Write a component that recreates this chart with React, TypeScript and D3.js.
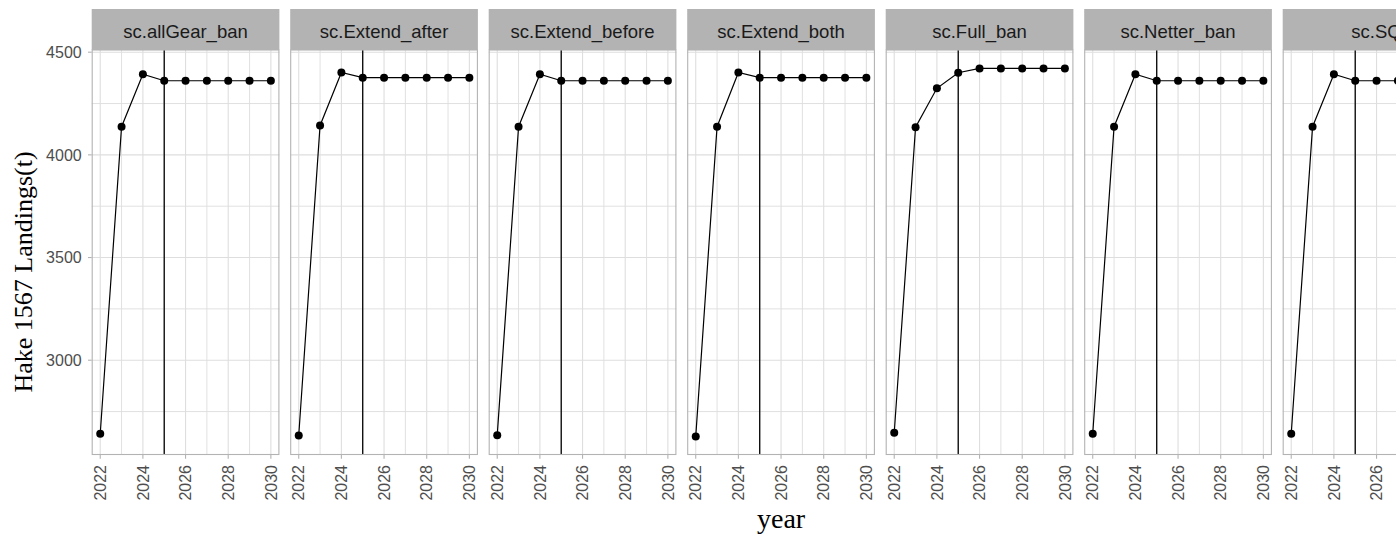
import React from "react";
import * as d3 from "d3";

const years = [2022, 2023, 2024, 2025, 2026, 2027, 2028, 2029, 2030];
const scenarios = [
  "sc.allGear_ban",
  "sc.Extend_after",
  "sc.Extend_before",
  "sc.Extend_both",
  "sc.Full_ban",
  "sc.Netter_ban",
  "sc.SQ",
];
const allGearBan = [2642, 4137, 4393, 4361, 4361, 4361, 4361, 4361, 4361];
const extendAfter = [2633, 4143, 4401, 4376, 4376, 4376, 4376, 4376, 4376];
const extendBefore = [2635, 4137, 4393, 4361, 4361, 4361, 4361, 4361, 4361];
const extendBoth = [2628, 4137, 4401, 4376, 4376, 4376, 4376, 4376, 4376];
const fullBan = [2647, 4135, 4324, 4400, 4421, 4421, 4421, 4421, 4421];
const netterBan = [2642, 4137, 4393, 4361, 4361, 4361, 4361, 4361, 4361];
const statusQuo = [2642, 4137, 4393, 4361, 4361, 4361, 4361, 4361, 4361];
const seriesValues = [allGearBan, extendAfter, extendBefore, extendBoth, fullBan, netterBan, statusQuo];
const vlineYear = 2025;
const yTicks = [3000, 3500, 4000, 4500];
const yMinor = [2750, 3250, 3750, 4250];
const xTicks = [2022, 2024, 2026, 2028, 2030];
const xMinor = [2023, 2025, 2027, 2029];
const yTitle = "Hake 1567 Landings(t)";
const xTitle = "year";

export default function App() {
  const W = 1396, H = 538;
  const panelLeft0 = 91.7, panelW = 187.7, panelStep = 198.5;
  const panelTop = 50, panelBottom = 455, stripTop = 9;
  const all = seriesValues.flat();
  const mn = d3.min(all)!, mx = d3.max(all)!;
  const ex = (mx - mn) * 0.05;
  const y = d3.scaleLinear().domain([mn - ex, mx + ex]).range([panelBottom, panelTop]);
  const xExp = (years[years.length - 1] - years[0]) * 0.05;
  const sans = "'Liberation Sans', Arial, sans-serif";
  const serif = "'Liberation Serif', 'Times New Roman', serif";
  const grid = "#DEDEDE";
  const line = d3.line<number>();

  return (
    <svg width={W} height={H} style={{ position: "absolute", left: 0, top: 0, background: "#fff" }}>
      <rect width={W} height={H} fill="#fff" />
      {scenarios.map((name, i) => {
        const x0 = panelLeft0 + i * panelStep;
        const x = d3.scaleLinear().domain([years[0] - xExp, years[years.length - 1] + xExp]).range([x0, x0 + panelW]);
        const vals = seriesValues[i];
        const pts: [number, number][] = years.map((yr, k) => [x(yr), y(vals[k])]);
        return (
          <g key={name}>
            <rect x={x0} y={panelTop} width={panelW} height={panelBottom - panelTop} fill="#fff" />
            {yMinor.map((v) => (
              <line key={"ym" + v} x1={x0} x2={x0 + panelW} y1={y(v)} y2={y(v)} stroke={grid} strokeWidth={0.9} />
            ))}
            {xMinor.map((v) => (
              <line key={"xm" + v} x1={x(v)} x2={x(v)} y1={panelTop} y2={panelBottom} stroke={grid} strokeWidth={0.9} />
            ))}
            {yTicks.map((v) => (
              <line key={"yM" + v} x1={x0} x2={x0 + panelW} y1={y(v)} y2={y(v)} stroke={grid} strokeWidth={1.1} />
            ))}
            {xTicks.map((v) => (
              <line key={"xM" + v} x1={x(v)} x2={x(v)} y1={panelTop} y2={panelBottom} stroke={grid} strokeWidth={1.1} />
            ))}
            <line x1={x(vlineYear)} x2={x(vlineYear)} y1={panelTop} y2={panelBottom} stroke="#000" strokeWidth={1.3} />
            <path d={line(pts)!} fill="none" stroke="#000" strokeWidth={1.2} />
            {pts.map((p, k) => (
              <circle key={k} cx={p[0]} cy={p[1]} r={4} fill="#000" />
            ))}
            <rect x={x0 + 0.5} y={panelTop} width={panelW - 1} height={panelBottom - panelTop - 0.5} fill="none" stroke="#B3B3B3" strokeWidth={1.1} />
            <rect x={x0} y={stripTop} width={panelW} height={panelTop - stripTop} fill="#B3B3B3" />
            <text x={x0 + panelW / 2} y={(stripTop + panelTop) / 2 + 1.5} dy="0.36em" textAnchor="middle" fontFamily={sans} fontSize={18.5} fill="#1A1A1A">
              {name}
            </text>
            {xTicks.map((v) => (
              <g key={"xt" + v}>
                <line x1={x(v)} x2={x(v)} y1={panelBottom} y2={panelBottom + 3.7} stroke="#B3B3B3" strokeWidth={1.1} />
                <text transform={`translate(${x(v)},${panelBottom + 10}) rotate(-90)`} textAnchor="end" dy="0.36em" fontFamily={sans} fontSize={16} fill="#4D4D4D">
                  {v}
                </text>
              </g>
            ))}
          </g>
        );
      })}
      {yTicks.map((v) => (
        <g key={"yt" + v}>
          <line x1={panelLeft0 - 3.7} x2={panelLeft0} y1={y(v)} y2={y(v)} stroke="#B3B3B3" strokeWidth={1.1} />
          <text x={panelLeft0 - 10} y={y(v)} dy="0.36em" textAnchor="end" fontFamily={sans} fontSize={16} fill="#4D4D4D">
            {v}
          </text>
        </g>
      ))}
      <text transform={`translate(32,${272}) rotate(-90)`} textAnchor="middle" fontFamily={serif} fontSize={26} fill="#000">
        {yTitle}
      </text>
      <text x={panelLeft0 + (panelStep * 6 + panelW) / 2} y={528} textAnchor="middle" fontFamily={serif} fontSize={28} fill="#000">
        {xTitle}
      </text>
    </svg>
  );
}
